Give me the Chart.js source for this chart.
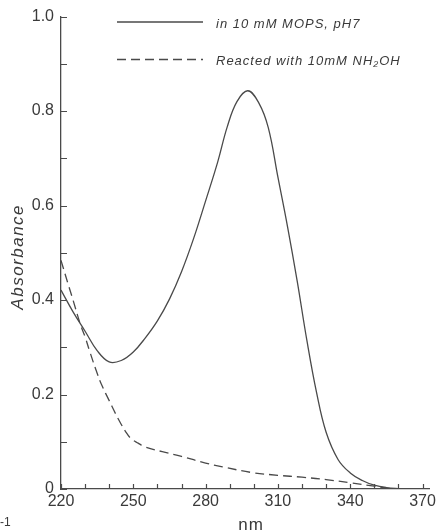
<!DOCTYPE html>
<html>
<head>
<meta charset="utf-8">
<script src="https://cdn.jsdelivr.net/npm/chart.js@4"></script>
<style>
  html, body { margin: 0; padding: 0; background: #ffffff; }
  canvas { display: block; }
</style>
</head>
<body>
<canvas id="c" width="439" height="530"></canvas>
<script>
// ---- data ----
const solidLabel = "in 10 mM MOPS, pH7";
const solidNm  = [220,225,230,235,240,245,250,255,260,265,270,275,280,285,289,293,297.5,302,306,310,314,318,322,326,330,335,340,345,350,355,360,365];
const solidAbs = [0.421,0.375,0.334,0.293,0.269,0.272,0.290,0.320,0.356,0.402,0.460,0.530,0.610,0.692,0.767,0.820,0.843,0.818,0.765,0.660,0.555,0.440,0.315,0.205,0.120,0.062,0.034,0.018,0.008,0.003,0.001,0];

const dashLabel = "Reacted with 10mM NH\u2082OH";
const dashNm  = [220,223,225,228,230,232,235,237,240,244,247,249,252,255,262,270,280,287,299,310,320,330,340,350,355,360];
const dashAbs = [0.484,0.433,0.400,0.349,0.322,0.290,0.245,0.219,0.187,0.146,0.120,0.107,0.097,0.089,0.079,0.069,0.055,0.047,0.035,0.029,0.025,0.020,0.013,0.006,0.002,0];

const xTickValues = [220,230,240,250,260,270,280,290,300,310,320,330,340,350,360,370];
const xLabelValues = [220,250,280,310,340,370];
const yLabelValues = [0,0.2,0.4,0.6,0.8,1.0];
const yTickLabels = ["0","0.2","0.4","0.6","0.8","1.0"];
const xTitle = "nm";
const yTitle = "Absorbance";

// ---- styles ----
const INK = "#4a4a4a";
const TEXT = "#3a3a3a";
const FONT = "'Liberation Sans', Arial, sans-serif";

function toPoints(xs, ys) { return xs.map((x, i) => ({ x: x, y: ys[i] })); }

const annot = {
  id: 'annot',
  afterDraw(chart) {
    const ctx = chart.ctx;
    const xs = chart.scales.x, ys = chart.scales.y;
    const area = chart.chartArea;
    ctx.save();
    ctx.strokeStyle = INK;
    ctx.lineWidth = 1.2;
    // inward tick marks
    ctx.beginPath();
    xs.ticks.forEach(t => {
      const px = Math.round(xs.getPixelForValue(t.value)) + 0.5;
      ctx.moveTo(px, area.bottom);
      ctx.lineTo(px, area.bottom - 5);
    });
    ys.ticks.forEach(t => {
      const py = Math.round(ys.getPixelForValue(t.value)) + 0.5;
      ctx.moveTo(area.left, py);
      ctx.lineTo(area.left + 6, py);
    });
    ctx.stroke();

    // legend
    const legendY = [22, 59.5];
    chart.data.datasets.forEach((ds, i) => {
      const y = legendY[i];
      ctx.strokeStyle = ds.borderColor;
      ctx.lineWidth = ds.borderWidth;
      ctx.setLineDash(ds.borderDash || []);
      ctx.beginPath();
      ctx.moveTo(117, y);
      ctx.lineTo(203, y);
      ctx.stroke();
      ctx.setLineDash([]);
      ctx.fillStyle = TEXT;
      ctx.font = "italic 13px " + FONT;
      ctx.letterSpacing = "1px";
      ctx.textAlign = "left";
      ctx.textBaseline = "middle";
      ctx.fillText(ds.label, 216, y + 2);
    });

    // axis titles
    ctx.fillStyle = TEXT;
    ctx.letterSpacing = "1.5px";
    ctx.font = "italic 17px " + FONT;
    ctx.textAlign = "center";
    ctx.textBaseline = "middle";
    ctx.save();
    ctx.translate(18, (area.top + area.bottom) / 2 + 4);
    ctx.rotate(-Math.PI / 2);
    ctx.fillText(yTitle, 0, 0);
    ctx.restore();
    ctx.letterSpacing = "1px";
    ctx.font = "17px " + FONT;
    ctx.fillText(xTitle, 251, 525);

    // stray fragment at lower left edge of the scan
    ctx.letterSpacing = "0px";
    ctx.font = "12px " + FONT;
    ctx.textAlign = "left";
    ctx.fillText("-1", 0, 523);
    ctx.restore();
  }
};

new Chart(document.getElementById('c'), {
  type: 'line',
  data: {
    datasets: [
      {
        label: solidLabel,
        data: toPoints(solidNm, solidAbs),
        borderColor: INK,
        borderWidth: 1.3,
        pointRadius: 0,
        fill: false,
        tension: 0.4
      },
      {
        label: dashLabel,
        data: toPoints(dashNm, dashAbs),
        borderColor: INK,
        borderWidth: 1.3,
        borderDash: [9, 5],
        pointRadius: 0,
        fill: false,
        tension: 0.4
      }
    ]
  },
  options: {
    responsive: false,
    animation: false,
    devicePixelRatio: 1,
    layout: { padding: { top: 15, right: 6, left: 0, bottom: 0 } },
    plugins: { legend: { display: false }, tooltip: { enabled: false } },
    scales: {
      x: {
        type: 'linear',
        min: 220,
        max: 373,
        afterBuildTicks: (scale) => { scale.ticks = xTickValues.map(v => ({ value: v })); },
        afterFit: (scale) => { scale.height = 41; },
        grid: { display: false, drawTicks: false },
        border: { display: true, color: INK, width: 1.3 },
        ticks: {
          autoSkip: false,
          maxRotation: 0,
          padding: 3,
          color: TEXT,
          font: { family: FONT, size: 16 },
          callback: (v) => xLabelValues.includes(v) ? String(v) : ''
        }
      },
      y: {
        min: 0,
        max: 1.0,
        afterBuildTicks: (scale) => {
          const t = [];
          for (let i = 0; i <= 10; i++) t.push({ value: i / 10 });
          scale.ticks = t;
        },
        afterFit: (scale) => { scale.width = 61; },
        grid: { display: false, drawTicks: false },
        border: { display: true, color: INK, width: 1.3 },
        ticks: {
          autoSkip: false,
          padding: 7,
          color: TEXT,
          font: { family: FONT, size: 16 },
          callback: (v) => {
            const idx = yLabelValues.findIndex(l => Math.abs(l - v) < 1e-6);
            return idx >= 0 ? yTickLabels[idx] : '';
          }
        }
      }
    }
  },
  plugins: [annot]
});
</script>
</body>
</html>
